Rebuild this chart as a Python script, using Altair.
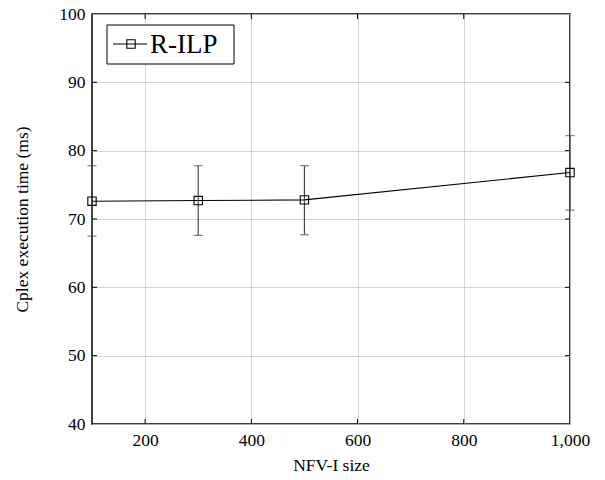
import altair as alt
import pandas as pd

sizes = [100, 300, 500, 1000]
times = [72.6, 72.7, 72.8, 76.8]
err_lo = [67.5, 67.6, 67.7, 71.3]
err_hi = [77.8, 77.8, 77.8, 82.2]
series = "R-ILP"
x_ticks = [200, 400, 600, 800, 1000]
y_ticks = [40, 50, 60, 70, 80, 90, 100]
x_ticks_all = [200, 400, 600, 800]

W, H = 478, 410
FONT = "Liberation Serif"
FS = 17.5

df = pd.DataFrame({"x": sizes, "y": times, "lo": err_lo, "hi": err_hi})
xs = alt.Scale(domain=[100, 1000], nice=False, zero=False)
ys = alt.Scale(domain=[40, 100], nice=False, zero=False)

xaxis = alt.Axis(values=x_ticks, format=",d", title="NFV-I size", grid=True,
                 labelPadding=7, titlePadding=8, labelFlush=False)
yaxis = alt.Axis(values=y_ticks, format="d", title="Cplex execution time (ms)", grid=True,
                 labelPadding=7, titlePadding=27, labelFlush=False)


def X(f):
    return alt.X(f, scale=xs, axis=xaxis)


def Y(f):
    return alt.Y(f, scale=ys, axis=yaxis)


base = alt.Chart(df)

ECOL = "#4a4a4a"
err = base.mark_rule(color=ECOL, strokeWidth=1.2).encode(
    x=X("x:Q"), y=Y("lo:Q"), y2="hi:Q")
cap_lo = base.mark_tick(orient="horizontal", size=9, thickness=1.2, color=ECOL).encode(
    x=X("x:Q"), y=Y("lo:Q"))
cap_hi = base.mark_tick(orient="horizontal", size=9, thickness=1.2, color=ECOL).encode(
    x=X("x:Q"), y=Y("hi:Q"))

line = base.mark_line(color="black", strokeWidth=1.1).encode(x=X("x:Q"), y=Y("y:Q"))
pts = base.mark_point(shape="square", size=70, filled=False, color="black",
                      strokeWidth=1.1, opacity=1).encode(x=X("x:Q"), y=Y("y:Q"))

# inward ticks on all four sides
xt = pd.DataFrame({"t": x_ticks_all})
yt = pd.DataFrame({"t": y_ticks[1:-1]})
tick_b = alt.Chart(xt).mark_rule(color="black", strokeWidth=1).encode(
    x=X("t:Q"), y=alt.value(H), y2=alt.value(H - 5))
tick_t = alt.Chart(xt).mark_rule(color="black", strokeWidth=1).encode(
    x=X("t:Q"), y=alt.value(0), y2=alt.value(5))
tick_l = alt.Chart(yt).mark_rule(color="black", strokeWidth=1).encode(
    y=Y("t:Q"), x=alt.value(0), x2=alt.value(5))
tick_r = alt.Chart(yt).mark_rule(color="black", strokeWidth=1).encode(
    y=Y("t:Q"), x=alt.value(W), x2=alt.value(W - 5))

# legend
leg = pd.DataFrame({"name": [series]})
leg_box = alt.Chart(leg).mark_rect(fill="white", stroke="black", strokeWidth=1).encode(
    x=alt.value(15), x2=alt.value(142), y=alt.value(11), y2=alt.value(50))
leg_line = alt.Chart(leg).mark_rule(color="black", strokeWidth=1.1).encode(
    x=alt.value(21), x2=alt.value(55), y=alt.value(30))
leg_pt = alt.Chart(leg).mark_point(shape="square", size=70, filled=False, color="black",
                                   strokeWidth=1.1, opacity=1).encode(
    x=alt.value(39), y=alt.value(30))
leg_txt = alt.Chart(leg).mark_text(font=FONT, fontSize=27, align="left", baseline="middle",
                                   color="black").encode(
    x=alt.value(58), y=alt.value(31), text="name:N")

chart = alt.layer(line, tick_b, tick_t, tick_l, tick_r, err, cap_lo, cap_hi, pts,
                  leg_box, leg_line, leg_pt, leg_txt).properties(
    width=W, height=H,
    background="white",
    autosize=alt.AutoSizeParams(type="none"),
    padding={"left": 84, "top": 6, "right": 20, "bottom": 56},
).configure_view(stroke="black", strokeWidth=1.5).configure_axis(
    gridColor="#c8c8c8", gridWidth=0.8, tickSize=0, domain=False,
    labelFont=FONT, labelFontSize=FS, labelColor="black",
    titleFont=FONT, titleFontSize=FS, titleFontWeight="normal", titleColor="black",
)

chart.save("out.html", embed_options={"renderer": "svg", "actions": False})
